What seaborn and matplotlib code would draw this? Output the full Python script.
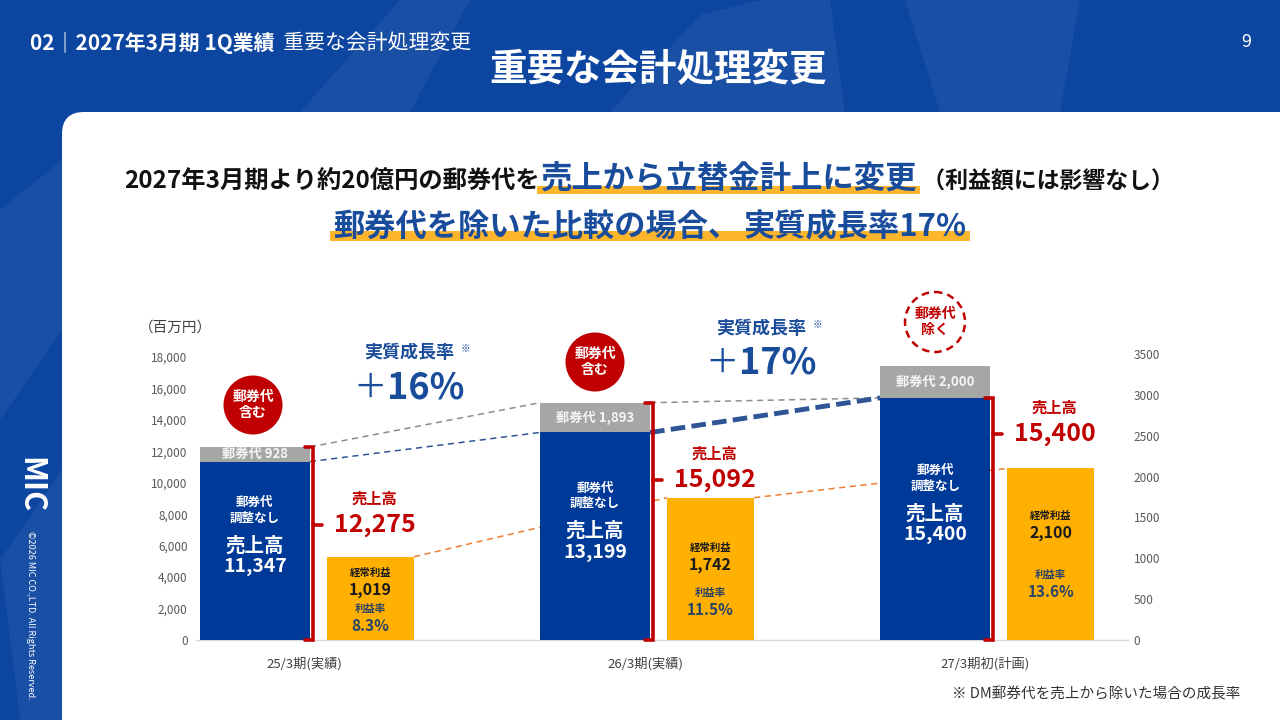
import matplotlib.pyplot as plt
from matplotlib.patches import FancyBboxPatch, Rectangle, Circle, Polygon
import numpy as np
import seaborn as sns

sns.set_theme(style="white")
plt.rcParams['font.family'] = ['Noto Sans CJK JP', 'DejaVu Sans']

# ---- データ ----
periods = ["25/3期(実績)", "26/3期(実績)", "27/3期初(計画)"]
sales_base = [11347, 13199, 15400]       # 郵券代調整なし 売上高
postage = [928, 1893, 2000]              # 郵券代
sales_reported = [12275, 15092, 15400]   # 売上高(赤字)
ordinary_profit = [1019, 1742, 2100]     # 経常利益 (右軸)
profit_margin = [8.3, 11.5, 13.6]        # 利益率 %
growth_rates = [16, 17]                  # 実質成長率 %
circle_labels = ["郵券代\n含む", "郵券代\n含む", "郵券代\n除く"]
left_ticks = list(range(0, 18001, 2000))
right_ticks = list(range(0, 3501, 500))

# ---- ラベル位置 (レイアウト) ----
sales_label_y = [7300, 10180, 13100]     # 左軸単位
profit_label_y = [612, 918, 1309]        # 右軸単位
margin_label_y = [171, 367, 587]         # 右軸単位

HEADER_BLUE = "#0D46A0"
BAR_BLUE = "#003A98"
GRAY = "#A6A6A6"
YELLOW = "#FFB000"
RED = "#C00000"
TXT_BLUE = "#1A4C9C"
HILITE = "#FDB52B"

fig = plt.figure(figsize=(12.8, 7.2), dpi=100)
fig.patch.set_facecolor(HEADER_BLUE)

# 背景用の軸 (ピクセル座標, y は下向き)
bg = fig.add_axes([0, 0, 1, 1])
bg.set_xlim(0, 1280)
bg.set_ylim(720, 0)
bg.axis('off')

for pts in [
    [(300, 112), (400, 0), (470, 0), (410, 112)],
    [(610, 112), (700, 15), (760, 0), (830, 0), (845, 112)],
    [(905, 0), (1080, 0), (1060, 112), (940, 112)],
    [(0, 210), (62, 160), (62, 330), (0, 420)],
    [(0, 560), (62, 470), (62, 720), (20, 720)],
]:
    bg.add_patch(Polygon(pts, closed=True, fc='white', alpha=0.05, ec='none', zorder=0))

bg.add_patch(FancyBboxPatch((62, 112), 1300, 700, boxstyle="round,pad=0,rounding_size=22",
                            fc='white', ec='none', zorder=1))


def place_run(parts, xc, y, va='baseline'):
    """複数のテキストを横に連結して中央揃えで配置"""
    r = fig.canvas.get_renderer()
    txts = [bg.text(0, y, s, ha='left', va=va, zorder=3, **kw) for s, kw in parts]
    ws = [t.get_window_extent(renderer=r).width for t in txts]
    x = xc - sum(ws) / 2
    for t, w in zip(txts, ws):
        t.set_x(x)
        x += w
    return txts, ws


# ---- ヘッダー ----
hdr, hw = place_run([("02｜2027年3月期 1Q業績", dict(fontsize=15, fontweight='bold', color='white')),
                     ("  重要な会計処理変更", dict(fontsize=15, color='white'))], 0, 43, va='center')
off = 30 - hdr[0].get_position()[0]
for t in hdr:
    t.set_x(t.get_position()[0] + off)
bg.text(1246, 42, "9", fontsize=13, color='white', ha='center', va='center', zorder=3)
bg.text(658, 70, "重要な会計処理変更", fontsize=27, fontweight='bold', color='white',
        ha='center', va='center', zorder=3)

# ---- サブタイトル ----
l1, w1 = place_run([("2027年3月期より約20億円の郵券代を", dict(fontsize=17.5, fontweight='bold', color='#111111')),
                    ("売上から立替金計上に変更", dict(fontsize=22.6, fontweight='bold', color=TXT_BLUE)),
                    (" （利益額には影響なし）", dict(fontsize=16.5, fontweight='bold', color='#111111'))],
                   649, 189)
bg.add_patch(Rectangle((l1[1].get_position()[0] - 3, 186), w1[1] + 6, 8, fc=HILITE, ec='none', zorder=2))

l2, w2 = place_run([("郵券代を除いた比較の場合、", dict(fontsize=22.5, fontweight='bold', color=TXT_BLUE)),
                    ("  ", dict(fontsize=8)),
                    ("実質成長率17%", dict(fontsize=22.5, fontweight='bold', color=TXT_BLUE))],
                   650, 236)
for k in (0, 2):
    bg.add_patch(Rectangle((l2[k].get_position()[0] - 3, 231), w2[k] + 6, 10, fc=HILITE, ec='none', zorder=2))

# ---- 左の帯 ----
bg.text(30, 485, "MIC", rotation=-90, fontsize=22, fontweight='bold', color='white',
        ha='center', va='center', zorder=3)
bg.text(30, 615, "©2026 MIC CO.,LTD. All Rights Reserved.", rotation=-90, fontsize=6.5,
        color='white', ha='center', va='center', zorder=3)

# ---- グラフ ----
ax = fig.add_axes([196 / 1280, 80 / 720, 932 / 1280, 286 / 720])
ax.patch.set_alpha(0)
ax2 = ax.twinx()
ax2.patch.set_alpha(0)

pos = np.arange(len(periods))
BLUE_OFF, BLUE_W = -0.147, 0.324
YEL_OFF, YEL_W = 0.193, 0.256
blue_x = pos + BLUE_OFF
yel_x = pos + YEL_OFF
gray_top = np.array(sales_base) + np.array(postage)
blue_l, blue_r = blue_x - BLUE_W / 2, blue_x + BLUE_W / 2
yel_l, yel_r = yel_x - YEL_W / 2, yel_x + YEL_W / 2

sns.barplot(x=blue_x, y=gray_top, native_scale=True, width=BLUE_W, color=GRAY, saturation=1,
            errorbar=None, linewidth=0, ax=ax, zorder=3)
sns.barplot(x=blue_x, y=sales_base, native_scale=True, width=BLUE_W, color=BAR_BLUE, saturation=1,
            errorbar=None, linewidth=0, ax=ax, zorder=3)
sns.barplot(x=yel_x, y=ordinary_profit, native_scale=True, width=YEL_W, color=YELLOW, saturation=1,
            errorbar=None, linewidth=0, ax=ax2, zorder=3)

# 破線 (棒の背面)
thin = dict(lw=1.1, linestyle=(0, (4, 3)), zorder=2, clip_on=False)
ax.plot([blue_r[0], blue_l[1]], [gray_top[0], gray_top[1]], color='#8C8C8C', **thin)
ax.plot([blue_r[1], blue_l[2]], [gray_top[1], sales_base[2]], color='#8C8C8C', **thin)
ax.plot([blue_r[0], blue_l[1]], [sales_base[0], sales_base[1]], color='#2F5597', **thin)
ax.plot([blue_r[1], blue_l[2]], [sales_base[1], sales_base[2]], color='#2F5597', lw=3.5,
        linestyle=(0, (3, 1.3)), zorder=2, clip_on=False)
for a, b in [(0, 1), (1, 2)]:
    ax.plot([yel_r[a], yel_l[b]], [ordinary_profit[a], ordinary_profit[b]], color='#ED7D31',
            transform=ax2.transData, **thin)

# 赤の括弧
for i in range(len(periods)):
    xv = blue_r[i] + 0.009
    top = sales_reported[i]
    ax.plot([blue_r[i] - 0.015, xv, xv, blue_r[i] - 0.015], [top, top, 0, 0], color=RED, lw=2.6,
            solid_joinstyle='miter', zorder=4, clip_on=False)
    ax.plot([xv, xv + 0.027], [sales_label_y[i], sales_label_y[i]], color=RED, lw=2.6, zorder=4, clip_on=False)

    # 売上高 (赤)
    xt = pos[i] + 0.205
    ax.text(xt, sales_label_y[i], f"{sales_reported[i]:,}", fontsize=18, fontweight='bold', color=RED,
            ha='center', va='center', zorder=5)
    ax.annotate("売上高", (xt, sales_label_y[i]), xytext=(0, 18.7), textcoords='offset points',
                fontsize=11, fontweight='bold', color=RED, ha='center', va='center', zorder=5)

    # 青棒内のテキスト
    mid = sales_base[i] / 2
    ax.annotate("郵券代\n調整なし", (blue_x[i], mid), xytext=(0, 29), textcoords='offset points',
                fontsize=9, fontweight='bold', color='white', ha='center', va='center',
                linespacing=1.25, zorder=5)
    ax.annotate("売上高", (blue_x[i], mid), xytext=(0, 3.6), textcoords='offset points',
                fontsize=14, fontweight='bold', color='white', ha='center', va='center', zorder=5)
    ax.annotate(f"{sales_base[i]:,}", (blue_x[i], mid), xytext=(0, -11.5), textcoords='offset points',
                fontsize=14, fontweight='bold', color='white', ha='center', va='center', zorder=5)

    # 郵券代 (灰色部分)
    ax.text(blue_x[i], sales_base[i] + postage[i] / 2, f"郵券代 {postage[i]:,}", fontsize=9.5,
            fontweight='bold', color='#F5F5F5', ha='center', va='center', zorder=5)

    # 黄色棒内のテキスト
    ax2.text(yel_x[i], profit_label_y[i], f"{ordinary_profit[i]:,}", fontsize=11.5, fontweight='bold',
             color='#1A1A1A', ha='center', va='center', zorder=5)
    ax2.annotate("経常利益", (yel_x[i], profit_label_y[i]), xytext=(0, 12.5), textcoords='offset points',
                 fontsize=7.5, fontweight='bold', color='#1A1A1A', ha='center', va='center', zorder=5)
    ax2.text(yel_x[i], margin_label_y[i], f"{profit_margin[i]}%", fontsize=11, fontweight='bold',
             color='#2A4468', ha='center', va='center', zorder=5)
    ax2.annotate("利益率", (yel_x[i], margin_label_y[i]), xytext=(0, 12.5), textcoords='offset points',
                 fontsize=7.5, fontweight='bold', color='#2A4468', ha='center', va='center', zorder=5)

# 軸設定
ax.set_xlim(-0.32, 2.42)
ax.set_ylim(0, 18000 * 286 / 283)
ax2.set_ylim(0, 3500)
ax.set_xticks(pos)
ax.set_xticklabels(periods, fontsize=9.5, color='#404040')
ax.set_yticks(left_ticks)
ax.set_yticklabels([f"{v:,}" for v in left_ticks], fontsize=8.5, color='#595959')
ax2.set_yticks(right_ticks)
ax2.set_yticklabels([str(v) for v in right_ticks], fontsize=8.5, color='#595959')
ax.tick_params(axis='x', length=0, pad=12)
ax.tick_params(axis='y', length=0, pad=6)
ax2.tick_params(axis='y', length=0, pad=4)
ax.set_xlabel('')
ax.set_ylabel('')
ax2.set_ylabel('')
ax.grid(False)
ax2.grid(False)
sns.despine(ax=ax, left=True, right=True, top=True)
ax.spines['bottom'].set_color('#D9D9D9')
ax.spines['bottom'].set_linewidth(1)
for s in ax2.spines.values():
    s.set_visible(False)

# ---- グラフ周りの注記 ----
bg.text(175, 328, "（百万円）", fontsize=10.5, color='#404040', ha='center', va='center', zorder=3)

growth_pos = [(409, 352, 388), (761, 328, 363)]
for g, (gx, gy1, gy2) in zip(growth_rates, growth_pos):
    bg.text(gx, gy1, "実質成長率", fontsize=13, fontweight='bold', color=TXT_BLUE, ha='center',
            va='center', zorder=3)
    bg.text(gx + 52, gy1 - 3, "※", fontsize=7, color=TXT_BLUE, ha='left', va='center', zorder=3)
    place_run([("＋", dict(fontsize=24, color=TXT_BLUE)),
               (f"{g}%", dict(fontsize=26, fontweight='bold', color=TXT_BLUE))], gx, gy2, va='center')

circle_pos = [(253, 405), (595, 362), (935, 322)]
for k, ((cx, cy), lab) in enumerate(zip(circle_pos, circle_labels)):
    if k < 2:
        bg.add_patch(Circle((cx, cy), 29.5, fc=RED, ec='none', zorder=3))
        col = 'white'
    else:
        bg.add_patch(Circle((cx, cy), 30, fc='white', ec=RED, lw=1.8, ls=(0, (3, 2)), zorder=3))
        col = RED
    bg.text(cx, cy, lab, fontsize=10, fontweight='bold', color=col, ha='center', va='center',
            linespacing=1.15, zorder=4)

bg.text(1240, 694, "※ DM郵券代を売上から除いた場合の成長率", fontsize=10.5, color='#333333',
        ha='right', va='center', zorder=3)

fig.savefig("out.png", dpi=100)
